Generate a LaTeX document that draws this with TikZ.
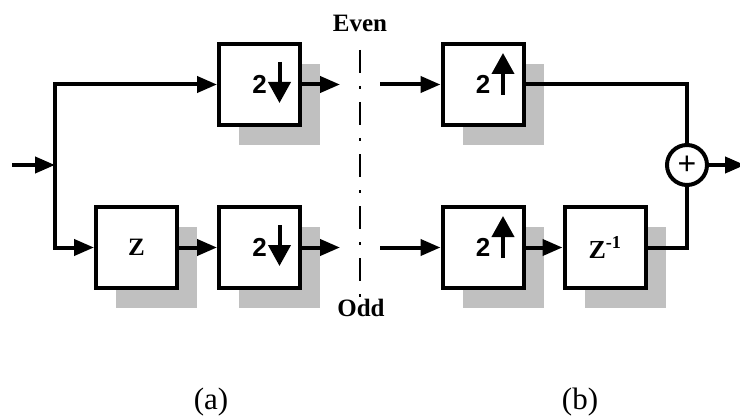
\documentclass[tikz,border=0pt]{standalone}
\usepackage{fontspec}
\setmainfont{Liberation Serif}
\setsansfont{Liberation Sans}
\usetikzlibrary{arrows.meta, shadows}
\definecolor{shade}{HTML}{C0C0C0}

\begin{document}
\begin{tikzpicture} [x=1pt, y=-1pt,
  blk/.style={draw, line width=4pt, fill=white, minimum size=81pt, inner sep=0pt,
    drop shadow={shadow xshift=20pt, shadow yshift=-20pt, fill=shade, opacity=1}},
  sig/.style={line width=4pt, -{Triangle[length=20pt, width=16pt]}},
  wire/.style={line width=4pt},
  rate/.style={line width=4pt, -{Triangle[length=21pt, width=22pt]}},
  two/.style={font=\sffamily\bfseries\fontsize{26}{26}\selectfont},
  dly/.style={font=\bfseries\fontsize{25}{25}\selectfont},
  side/.style={font=\bfseries\fontsize{25}{25}\selectfont},
  capt/.style={font=\fontsize{31}{31}\selectfont}]
\useasboundingbox (0,0) rectangle (740,420);
% (a) analysis side
\node[blk, two] (dnE) at (259.5,84.5) {2};
\node[blk, dly] (delZ) at (136.5,247.5) {Z};
\node[blk, two] (dnO) at (259.5,247.5) {2};
\coordinate (inL) at (12,165); \coordinate (tap) at (55,165);
\coordinate (oE) at (340,84.5); \coordinate (oO) at (340,247.5);
\draw[sig] (inL) -- (tap);
\draw[sig] (tap) |- (dnE); \draw[sig] (tap) |- (delZ);
\draw[sig] (delZ) -- (dnO);
\draw[sig] (dnE) -- (oE); \draw[sig] (dnO) -- (oO);
\draw[rate] ([shift={(20,-22.5)}]dnE.center) -- ([shift={(20,18.5)}]dnE.center);
\draw[rate] ([shift={(20,-22.5)}]dnO.center) -- ([shift={(20,18.5)}]dnO.center);
% cut
\node[side] (even) at (360,23) {Even};
\node[side] (odd) at (361,307.5) {Odd};
\coordinate (cutT) at (360,50); \coordinate (cutB) at (360,297);
\draw[line width=2pt, dash pattern=on 23pt off 13pt on 3pt off 13pt] (cutT) -- (cutB);
% (b) synthesis side
\node[blk, two] (upE) at (483,84.5) {2};
\node[blk, two] (upO) at (483,247.5) {2};
\node[blk, font=\bfseries\fontsize{26}{26}\selectfont] (delZi) at (605,247.5) {Z\textsuperscript{-1}};
\node[draw, circle, line width=4pt, fill=white, minimum size=40pt, inner sep=0pt,
  font=\sffamily\fontsize{32}{32}\selectfont] (sum) at (687,165) {+};
\coordinate (iE) at (380,84.5); \coordinate (iO) at (380,247.5);
\coordinate (out) at (745,165);
\draw[sig] (iE) -- (upE); \draw[sig] (iO) -- (upO);
\draw[sig] (upO) -- (delZi);
\draw[wire] (upE) -| (sum); \draw[wire] (delZi) -| (sum);
\draw[sig] (sum) -- (out);
\draw[rate] ([shift={(20,10.5)}]upE.center) -- ([shift={(20,-31.5)}]upE.center);
\draw[rate] ([shift={(20,10.5)}]upO.center) -- ([shift={(20,-31.5)}]upO.center);
% captions
\node[capt] (capA) at (211,402) {(a)};
\node[capt] (capB) at (580,402) {(b)};
\end{tikzpicture}
\end{document}
